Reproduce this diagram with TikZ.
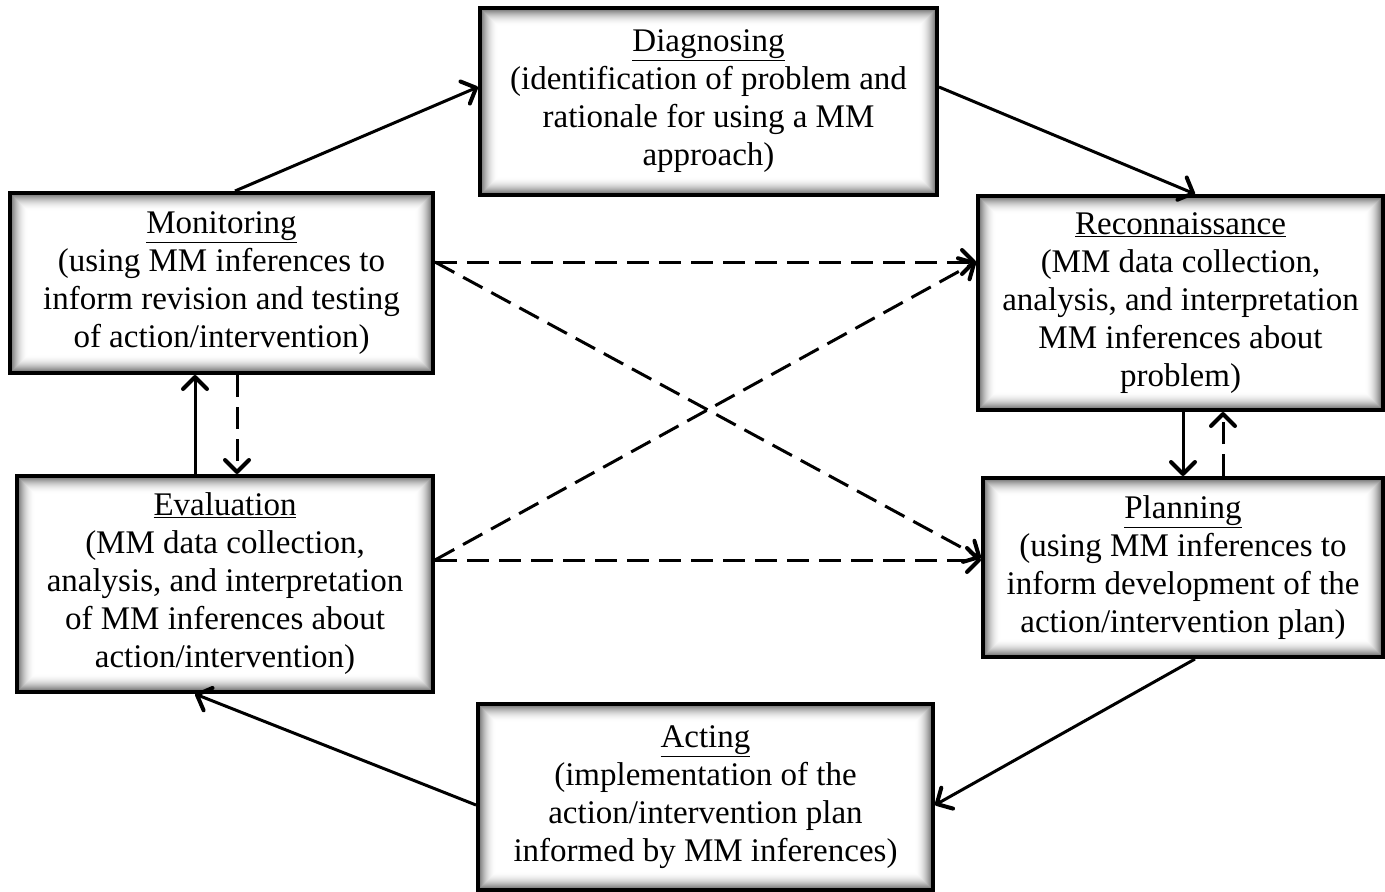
\documentclass[tikz,border=0pt]{standalone}
\usepackage{fontspec}
\setmainfont{Liberation Serif}
\usetikzlibrary{arrows.meta}
\tikzset{
  glow/.style={path picture={
    \foreach \i in {0,...,17}{
      \pgfmathsetmacro\c{60*(1-\i/18)^2}
      \fill[black!\c] ([shift={(\i pt,\i pt)}]path picture bounding box.south west) rectangle ([shift={(-\i pt,-\i pt)}]path picture bounding box.north east);
    }
    \fill[white] ([shift={(18pt,18pt)}]path picture bounding box.south west) rectangle ([shift={(-18pt,-18pt)}]path picture bounding box.north east);
  }},
  box/.style={glow, draw=black, line width=4pt, align=center, inner sep=0pt,
    font=\fontsize{33}{38}\selectfont},
  conn/.style={line width=3pt, -{Straight Barb[length=12pt,width=24pt,line width=4pt,round]}},
  dconn/.style={conn, dash pattern=on 22pt off 10pt},
}
\begin{document}
\begin{tikzpicture}[x=1pt,y=-1pt]
\useasboundingbox (0,0) rectangle (1385,892);
\node[box, minimum width=457pt, minimum height=187pt] (diag) at (708.5,101.5)
  {\underline{Diagnosing}\\(identification of problem and\\rationale for using a MM\\approach)};
\node[box, minimum width=423pt, minimum height=180pt] (mon) at (221.5,283)
  {\underline{Monitoring}\\(using MM inferences to\\inform revision and testing\\of action/intervention)};
\node[box, minimum width=405pt, minimum height=214pt] (rec) at (1180.5,303)
  {\underline{Reconnaissance}\\(MM data collection,\\analysis, and interpretation\\MM inferences about\\problem)};
\node[box, minimum width=416pt, minimum height=216pt] (eval) at (225,584)
  {\underline{Evaluation}\\(MM data collection,\\analysis, and interpretation\\of MM inferences about\\action/intervention)};
\node[box, minimum width=400pt, minimum height=179pt] (plan) at (1183,567.5)
  {\underline{Planning}\\(using MM inferences to\\inform development of the\\action/intervention plan)};
\node[box, minimum width=455pt, minimum height=186pt] (act) at (705.5,797)
  {\underline{Acting}\\(implementation of the\\action/intervention plan\\informed by MM inferences)};

\draw[conn] ([xshift=13.5pt]mon.north) -- ([yshift=14.5pt]diag.west);
\draw[conn] ([yshift=14.5pt]diag.east) -- ([xshift=14.5pt]rec.north);
\draw[conn] ([xshift=2.5pt]rec.south) -- (plan.north);
\draw[dconn] ([xshift=40pt]plan.north) -- ([xshift=42.5pt]rec.south);
\draw[conn] ([xshift=12pt]plan.south) -- ([yshift=-8pt]act.east);
\draw[conn] ([yshift=-8pt]act.west) -- ([xshift=-30pt]eval.south);
\draw[conn] ([xshift=-30pt]eval.north) -- ([xshift=-26.5pt]mon.south);
\draw[dconn] ([xshift=15.5pt]mon.south) -- ([xshift=12pt]eval.north);
\draw[dconn] ([yshift=21pt]mon.east) -- ([yshift=41pt]rec.west);
\draw[dconn] ([yshift=21pt]mon.east) -- ([yshift=9.5pt]plan.west);
\draw[dconn] ([yshift=24pt]eval.east) -- ([yshift=41pt]rec.west);
\draw[dconn] ([yshift=24pt]eval.east) -- ([yshift=7.5pt]plan.west);
\end{tikzpicture}
\end{document}
